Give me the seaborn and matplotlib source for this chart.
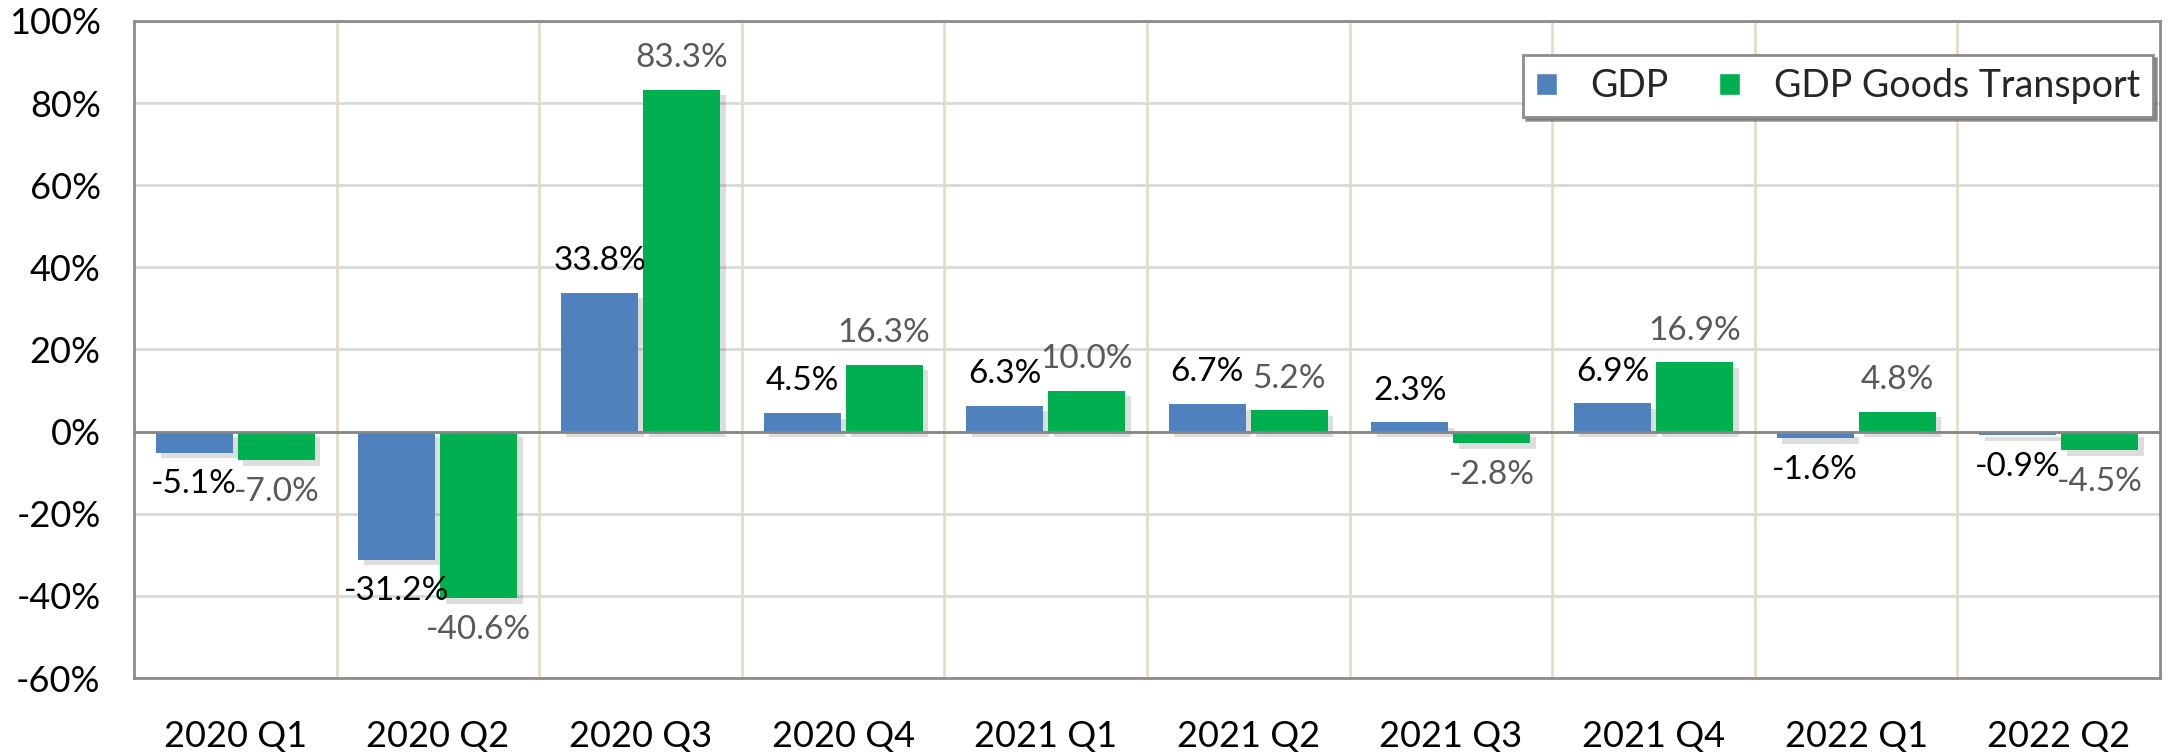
import matplotlib
matplotlib.use("Agg")
import matplotlib.pyplot as plt
import matplotlib.patheffects as pe
from matplotlib.ticker import FuncFormatter, MultipleLocator
import seaborn as sns
import pandas as pd

quarters = ["2020 Q1", "2020 Q2", "2020 Q3", "2020 Q4", "2021 Q1",
            "2021 Q2", "2021 Q3", "2021 Q4", "2022 Q1", "2022 Q2"]
gdp = [-5.1, -31.2, 33.8, 4.5, 6.3, 6.7, 2.3, 6.9, -1.6, -0.9]
goods_transport = [-7.0, -40.6, 83.3, 16.3, 10.0, 5.2, -2.8, 16.9, 4.8, -4.5]
series_names = ["GDP", "GDP Goods Transport"]
colors = ["#4F81BD", "#00B050"]
label_colors = ["#000000", "#595959"]

df = pd.DataFrame({
    "Quarter": quarters * 2,
    "Value": gdp + goods_transport,
    "Series": [series_names[0]] * len(quarters) + [series_names[1]] * len(quarters),
})

sns.set_style("white")
plt.rcParams["font.family"] = ["Lato", "DejaVu Sans"]

fig = plt.figure(figsize=(21.68, 7.54), dpi=100)
ax = fig.add_axes([134 / 2168, 1 - 678 / 754, (2160 - 134) / 2168, (678 - 21) / 754])

sns.barplot(data=df, x="Quarter", y="Value", hue="Series", palette=colors,
            width=0.81, gap=0.06, saturation=1, ax=ax, legend=True, zorder=3)

for cont in ax.containers:
    for bar in cont:
        bar.set_linewidth(0)
        bar.set_path_effects([pe.SimplePatchShadow(offset=(4, -4), alpha=0.2, shadow_rgbFace="#555555"),
                              pe.Normal()])

for cont, lc in zip(ax.containers, label_colors):
    ax.bar_label(cont, labels=[f"{v.get_height():.1f}%" for v in cont],
                 padding=12, fontsize=24, color=lc)

ax.set_ylim(-60, 100)
ax.set_xlim(-0.5, len(quarters) - 0.5)
ax.yaxis.set_major_locator(MultipleLocator(20))
ax.yaxis.set_major_formatter(FuncFormatter(lambda v, p: f"{v:.0f}%"))
ax.set_xlabel("")
ax.set_ylabel("")
ax.tick_params(axis="both", length=0, labelsize=26, colors="black")
ax.tick_params(axis="x", pad=30)
ax.tick_params(axis="y", pad=24)

for y in range(-60, 101, 20):
    ax.axhline(y, color="#d9d9d9", lw=2, zorder=1)
for xb in range(1, len(quarters)):
    ax.axvline(xb - 0.5, color="#e3ddc8", lw=2, zorder=1)
ax.axhline(0, color="#868686", lw=2, zorder=4)

for s in ax.spines.values():
    s.set_visible(True)
    s.set_color("#8c8c8c")
    s.set_linewidth(2)

handles, labels = ax.get_legend_handles_labels()
leg = ax.legend(handles, labels, loc="upper right", bbox_to_anchor=(0.9965, 0.948),
                borderaxespad=0, ncol=2, fontsize=27, frameon=True, fancybox=False, shadow=True,
                handlelength=0.55, handleheight=0.55, handletextpad=0.9,
                columnspacing=1.35, borderpad=0.35)
leg.get_frame().set_edgecolor("#8c8c8c")
leg.get_frame().set_linewidth(2)

fig.savefig("out.png", dpi=100)
